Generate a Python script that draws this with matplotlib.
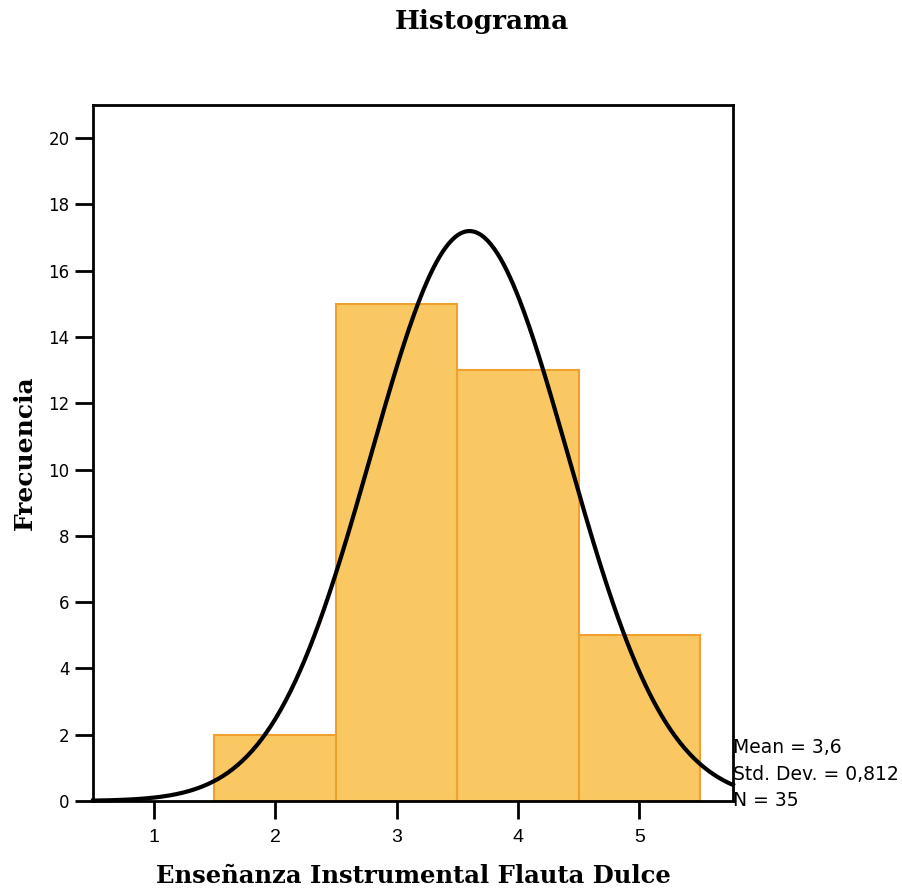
import numpy as np
import matplotlib
matplotlib.use("Agg")
import matplotlib.pyplot as plt
from matplotlib.transforms import blended_transform_factory

bin_centers = [2, 3, 4, 5]
counts = [2, 15, 13, 5]
mean_val = 3.6
std_val = 0.812
n_val = 35
x_ticks = [1, 2, 3, 4, 5]
y_ticks = [0, 2, 4, 6, 8, 10, 12, 14, 16, 18, 20]
stats_lines = ["Mean = 3,6", "Std. Dev. = 0,812", "N = 35"]

fig = plt.figure(figsize=(9.03, 8.91), dpi=100)
ax = fig.add_axes([93/903, 90/891, 640/903, 696/891])

ax.bar(bin_centers, counts, width=1.0, color="#FAC863", edgecolor="#EFA02E", linewidth=1.5, zorder=2)

xs = np.linspace(0.5, 5.77, 400)
pdf = n_val * 1.0 / (std_val * np.sqrt(2 * np.pi)) * np.exp(-0.5 * ((xs - mean_val) / std_val) ** 2)
ax.plot(xs, pdf, color="black", linewidth=3, zorder=3, clip_on=False)

ax.set_xlim(0.5, 5.77)
ax.set_ylim(0, 21)
ax.set_xticks(x_ticks)
ax.set_yticks(y_ticks)
ax.set_xticklabels([str(v) for v in x_ticks], fontsize=14, family="Liberation Sans")
ax.set_yticklabels([str(v) for v in y_ticks], fontsize=12, family="DejaVu Sans")
ax.tick_params(axis="both", direction="out", length=13, width=2, color="black")
ax.tick_params(axis="x", pad=7)
ax.tick_params(axis="y", pad=4)
for s in ax.spines.values():
    s.set_linewidth(2)

ax.set_xlabel("Enseñanza Instrumental Flauta Dulce", fontsize=17.5, fontweight="bold",
              family="DejaVu Serif", labelpad=13)
ax.set_ylabel("Frecuencia", fontsize=18, fontweight="bold", family="DejaVu Serif", labelpad=8)
fig.text(482/903, 1 - 22/891, "Histograma", ha="center", va="center", fontsize=19,
         fontweight="bold", family="DejaVu Serif")

tr = blended_transform_factory(ax.transAxes, ax.transData)
for i, line in enumerate(stats_lines):
    ax.text(1.0, 1.6 - 0.8 * i, line, transform=tr, ha="left", va="center",
            fontsize=13.5, family="DejaVu Sans", clip_on=False)

fig.savefig("out.png", dpi=100)
